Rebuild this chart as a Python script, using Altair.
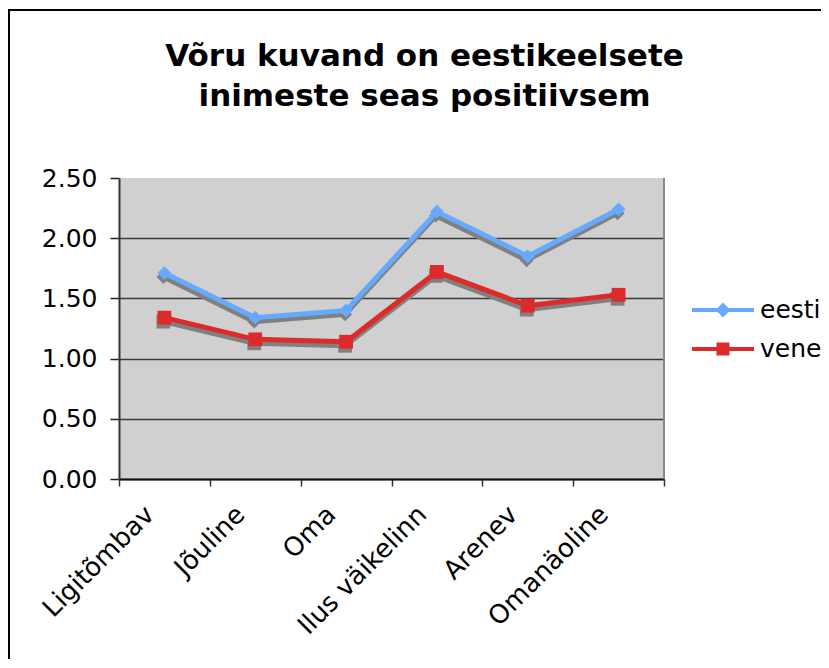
import altair as alt
import pandas as pd

categories = ["Ligitõmbav", "Jõuline", "Oma", "Ilus väikelinn", "Arenev", "Omanäoline"]
series_names = ["eesti", "vene"]
eesti = [1.71, 1.34, 1.40, 2.22, 1.85, 2.24]
vene = [1.34, 1.16, 1.14, 1.72, 1.44, 1.53]
y_ticks = [0.0, 0.5, 1.0, 1.5, 2.0, 2.5]
title_lines = ["Võru kuvand on eestikeelsete", "inimeste seas positiivsem"]

colors = ["#66AAFF", "#DD2A2A"]
marker_shapes = ["diamond", "square"]
legend_paths = [
    "M-1,-0.068L1,-0.068L1,0.068L-1,0.068Z M0,-0.24L0.24,0L0,0.24L-0.24,0Z",
    "M-1,-0.068L1,-0.068L1,0.068L-1,0.068Z M-0.21,-0.21L0.21,-0.21L0.21,0.21L-0.21,0.21Z",
]

rows = []
for name, vals in zip(series_names, [eesti, vene]):
    for c, v in zip(categories, vals):
        rows.append({"category": c, "series": name, "value": v})
df = pd.DataFrame(rows)

W, H = 545, 301
FONT = "DejaVu Sans"

x_enc = alt.X(
    "category:N",
    sort=categories,
    scale=alt.Scale(type="band", domain=categories, paddingInner=0, paddingOuter=0),
    axis=alt.Axis(
        title=None,
        labelAngle=-45,
        labelAlign="right",
        labelBaseline="middle",
        labelFontSize=26,
        labelFont=FONT,
        labelColor="black",
        labelPadding=24,
        labelOffset=-15,
        tickBand="extent",
        tickSize=7,
        tickColor="#333333",
        tickWidth=1.5,
        domainColor="#111111",
        domainWidth=2,
        grid=False,
        labelOverlap=False,
    ),
)
y_enc = alt.Y(
    "value:Q",
    scale=alt.Scale(domain=[0, 2.5], nice=False, zero=True),
    axis=alt.Axis(
        title=None,
        values=y_ticks,
        format=".2f",
        labelFontSize=25,
        labelFont=FONT,
        labelColor="black",
        labelPadding=13,
        tickSize=9,
        tickColor="#222222",
        tickWidth=1.5,
        domainColor="#333333",
        domainWidth=2,
        grid=True,
        gridColor=alt.condition("datum.value >= 2.5", alt.value("transparent"), alt.value("#3a3a3a")),
        gridWidth=1.5,
    ),
)

base = alt.Chart(df)

border = alt.Chart(pd.DataFrame({"k": [0]})).mark_rect(
    fill="transparent", stroke="black", strokeWidth=2
).encode(
    x=alt.value(-110), x2=alt.value(900), y=alt.value(-168), y2=alt.value(700)
)

layers = [border]

# shadow lines and markers
layers.append(
    base.mark_line(color="#808080", strokeWidth=5, yOffset=4, xOffset=-1).encode(
        x=x_enc, y=y_enc, detail="series:N"
    )
)
for name, shp in zip(series_names, marker_shapes):
    layers.append(
        base.transform_filter(alt.datum.series == name)
        .mark_point(filled=True, color="#808080", shape=shp, size=190, opacity=1, yOffset=4, xOffset=-1)
        .encode(x=x_enc, y=y_enc)
    )

# real lines and markers
for name, shp, col in zip(series_names, marker_shapes, colors):
    sub = base.transform_filter(alt.datum.series == name)
    layers.append(sub.mark_line(color=col, strokeWidth=5).encode(x=x_enc, y=y_enc))
    layers.append(
        sub.mark_point(filled=True, color=col, shape=shp, size=190, opacity=1).encode(x=x_enc, y=y_enc)
    )

# right edge of plot area
layers.append(
    alt.Chart(pd.DataFrame({"k": [0]})).mark_rule(color="#888888", strokeWidth=2).encode(
        x=alt.value(W), y=alt.value(0), y2=alt.value(H)
    )
)

# legend-only layer
legend_kw = dict(title=None, orient="none", legendX=573, legendY=117)
layers.append(
    base.transform_filter("false")
    .mark_point(filled=True, opacity=1, strokeWidth=0)
    .encode(
        x=x_enc,
        y=y_enc,
        color=alt.Color("series:N", scale=alt.Scale(domain=series_names, range=colors),
                        legend=alt.Legend(**legend_kw)),
        shape=alt.Shape("series:N", scale=alt.Scale(domain=series_names, range=legend_paths),
                        legend=alt.Legend(**legend_kw)),
    )
)

chart = (
    alt.layer(*layers)
    .properties(
        width=W,
        height=H,
        autosize=alt.AutoSizeParams(type="none"),
        padding={"left": 111, "top": 170, "right": 157, "bottom": 180},
        title=alt.TitleParams(
            text=title_lines,
            font=FONT,
            fontSize=31,
            fontWeight="bold",
            color="black",
            anchor="middle",
            frame="group",
            dx=33,
            offset=-104,
            lineHeight=40,
        ),
    )
    .configure_view(fill="#D0D0D0", stroke=None)
    .configure_legend(
        symbolSize=3844,
        clipHeight=30,
        rowPadding=9,
        labelFontSize=25,
        labelFont=FONT,
        labelColor="black",
        labelOffset=6,
        padding=0,
        symbolStrokeWidth=0,
    )
)

chart.save("out.html", embed_options={"renderer": "svg", "actions": False})
